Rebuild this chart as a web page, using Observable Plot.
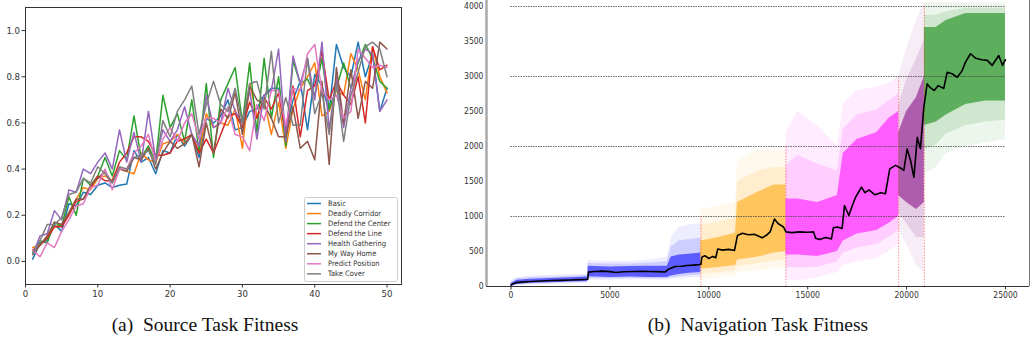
<!DOCTYPE html>
<html>
<head>
<meta charset="utf-8">
<script src="https://cdn.jsdelivr.net/npm/d3@7"></script>
<script src="https://cdn.jsdelivr.net/npm/@observablehq/plot@0.6"></script>
<style>
  body { margin: 0; background: #fff; width: 1032px; height: 350px; overflow: hidden; position: relative; }
  #left { position: absolute; left: 0; top: 0; }
  #right { position: absolute; left: 446px; top: 0; }
  #legend { position: absolute; left: 304px; top: 197px; }
  .cap { position: absolute; top: 314px; font-family: 'Liberation Serif', serif; font-size: 19.5px; color: #111;
         transform: translateX(-50%); white-space: pre; }
</style>
</head>
<body>
<div id="left"></div>
<div id="legend"></div>
<div id="right"></div>
<div class="cap" style="left:205px">(a)  Source Task Fitness</div>
<div class="cap" style="left:758px">(b)  Navigation Task Fitness</div>
<script>
// ---------- (a) Source task fitness: 8 tasks x 50 epochs ----------
const tasks = ["Basic", "Deadly Corridor", "Defend the Center", "Defend the Line",
               "Health Gathering", "My Way Home", "Predict Position", "Take Cover"];
const taskColors = ["#1f77b4", "#ff7f0e", "#2ca02c", "#d62728", "#9467bd", "#8c564b", "#e377c2", "#7f7f7f"];

const basic = [0.01,0.08,0.09,0.16,0.13,0.25,0.24,0.30,0.29,0.33,0.34,0.32,0.33,0.335,0.48,0.43,0.45,0.38,0.48,0.47,0.55,0.50,0.55,0.45,0.62,0.60,0.63,0.70,0.57,0.58,0.65,0.66,0.72,0.75,0.75,0.56,0.70,0.78,0.57,0.81,0.76,0.65,0.94,0.84,0.80,0.95,0.80,0.90,0.65,0.75];
const deadlyCorridor = [0.06,0.07,0.11,0.15,0.16,0.21,0.27,0.32,0.31,0.36,0.37,0.35,0.40,0.39,0.38,0.47,0.44,0.43,0.51,0.52,0.55,0.51,0.55,0.47,0.64,0.58,0.60,0.59,0.66,0.49,0.77,0.63,0.70,0.55,0.69,0.49,0.66,0.75,0.80,0.86,0.63,0.65,0.74,0.72,0.90,0.83,0.70,0.93,0.80,0.73];
const defendCenter = [0.04,0.09,0.08,0.17,0.15,0.28,0.20,0.36,0.33,0.37,0.45,0.37,0.48,0.44,0.63,0.45,0.50,0.43,0.72,0.58,0.64,0.52,0.70,0.48,0.77,0.45,0.70,0.77,0.84,0.60,0.86,0.56,0.88,0.62,0.80,0.50,0.87,0.77,0.79,0.72,0.88,0.66,0.75,0.86,0.75,0.86,0.94,0.88,0.78,0.75];
const defendLine = [0.05,0.07,0.10,0.15,0.15,0.20,0.26,0.27,0.32,0.37,0.35,0.35,0.43,0.47,0.54,0.54,0.52,0.46,0.46,0.47,0.52,0.53,0.55,0.47,0.53,0.47,0.55,0.63,0.64,0.58,0.69,0.62,0.71,0.66,0.73,0.55,0.76,0.54,0.74,0.76,0.91,0.70,0.78,0.72,0.68,0.80,0.60,0.93,0.83,0.85];
const healthGathering = [0.03,0.11,0.12,0.22,0.18,0.31,0.30,0.40,0.38,0.43,0.47,0.40,0.57,0.43,0.56,0.43,0.65,0.44,0.57,0.52,0.57,0.67,0.55,0.50,0.72,0.58,0.60,0.75,0.65,0.60,0.74,0.53,0.72,0.74,0.92,0.52,0.89,0.77,0.88,0.70,0.95,0.57,0.80,0.58,0.75,0.87,0.92,0.90,0.65,0.70];
const myWayHome = [0.03,0.07,0.11,0.17,0.16,0.21,0.27,0.27,0.33,0.36,0.39,0.34,0.40,0.39,0.45,0.44,0.49,0.40,0.47,0.52,0.49,0.51,0.55,0.41,0.60,0.47,0.66,0.62,0.73,0.55,0.76,0.70,0.68,0.62,0.54,0.54,0.67,0.49,0.52,0.44,0.78,0.42,0.84,0.60,0.83,0.62,0.78,0.75,0.95,0.92];
const predictPosition = [0.05,0.02,0.08,0.06,0.13,0.18,0.24,0.25,0.32,0.33,0.40,0.31,0.40,0.40,0.47,0.50,0.55,0.43,0.53,0.58,0.52,0.60,0.64,0.53,0.62,0.62,0.60,0.67,0.55,0.54,0.48,0.68,0.61,0.74,0.74,0.59,0.75,0.74,0.90,0.94,0.74,0.70,0.72,0.62,0.65,0.92,0.88,0.84,0.85,0.84];
const takeCover = [0.03,0.09,0.16,0.16,0.19,0.29,0.30,0.36,0.34,0.41,0.38,0.34,0.41,0.40,0.45,0.46,0.48,0.42,0.61,0.54,0.65,0.70,0.76,0.55,0.68,0.78,0.68,0.65,0.75,0.60,0.77,0.78,0.66,0.91,0.60,0.71,0.59,0.59,0.88,0.64,0.73,0.55,0.77,0.52,0.72,0.82,0.93,0.95,0.92,0.80];

const sourceSeries = [basic, deadlyCorridor, defendCenter, defendLine, healthGathering, myWayHome, predictPosition, takeCover];
const sourceRows = sourceSeries.flatMap((vals, k) => vals.map((v, i) => ({task: tasks[k], epoch: i + 1, fitness: v})));

const leftXTicks = [0, 10, 20, 30, 40, 50];
const leftYTicks = [0, 0.2, 0.4, 0.6, 0.8, 1.0];

const tickFont = "'DejaVu Sans Condensed', 'DejaVu Sans', sans-serif";

const leftPlot = Plot.plot({
  width: 410, height: 300,
  marginLeft: 25, marginRight: 9, marginTop: 7, marginBottom: 16,
  x: {domain: [0, 52]},
  y: {domain: [-0.1, 1.1]},
  color: {domain: tasks, range: taskColors},
  style: {fontFamily: tickFont, fontSize: "9.5px", color: "#333", background: "#fff", overflow: "visible"},
  marks: [
    Plot.axisX({ticks: leftXTicks, tickSize: 3.5, tickPadding: 2, label: null, stroke: "#333"}),
    Plot.axisY({ticks: leftYTicks, tickSize: 3.5, tickPadding: 2, tickFormat: d => d.toFixed(1), label: null, stroke: "#333"}),
    Plot.line(sourceRows, {x: "epoch", y: "fitness", z: "task", stroke: "task", strokeWidth: 1.5}),
    Plot.frame({stroke: "#333", strokeWidth: 1})
  ]
});
document.getElementById("left").appendChild(leftPlot);

// legend box inside the lower-right corner of panel (a)
{
  const w = 93, h = 84, rowH = 10.05;
  const svg = d3.select("#legend").append("svg").attr("width", w + 1).attr("height", h + 1);
  svg.append("rect").attr("x", 0.5).attr("y", 0.5).attr("width", w).attr("height", h)
     .attr("rx", 2).attr("fill", "#fff").attr("stroke", "#ccc");
  const g = svg.selectAll("g").data(tasks).join("g")
     .attr("transform", (d, i) => `translate(0,${6.5 + i * rowH})`);
  g.append("line").attr("x1", 3).attr("x2", 17).attr("stroke", (d, i) => taskColors[i]).attr("stroke-width", 1.5);
  g.append("text").attr("x", 24).attr("dy", "0.35em").text(d => d)
     .attr("font-family", tickFont).attr("font-size", "7.5px").attr("fill", "#333");
}

// ---------- (b) Navigation task fitness ----------
const phases = ["p1", "p2", "p3", "p4", "p5"];
const phaseColors = ["#0000ff", "#ffa500", "#ff00ff", "#800080", "#008000"];
// phase switch steps and the height of the marker drawn at each switch
const switchStep = [9600, 13900, 19600, 20900];
const switchTop = [1000, 2000, 3000, 4000];
const gridLevels = [1000, 2000, 3000, 4000];

// spread of the individual runs per phase: outer (faint) and inner (dense) envelopes
const bandPhase = ["p1","p1","p1","p1","p1","p1","p1","p1","p1","p1","p1","p1","p1","p1","p1",
                   "p2","p2","p2","p2","p2","p2","p2",
                   "p3","p3","p3","p3","p3","p3","p3","p3","p3",
                   "p4","p4","p4","p4",
                   "p5","p5","p5","p5","p5","p5"];
const bandStep = [0,300,1000,2000,3000,3880,3900,5000,6000,7000,7900,8100,8500,9000,9600,
                  9600,10500,11350,11450,12500,13300,13900,
                  13900,14500,15500,16500,16800,17500,18500,19100,19600,
                  19600,20000,20500,20900,
                  20900,21500,22000,23000,24000,25000];
const outerLow = [0,10,20,30,40,45,90,90,95,95,90,100,110,120,130,
                  100,120,150,200,220,250,250,
                  100,80,120,200,300,350,400,500,600,
                  800,600,300,200,
                  1600,1700,1900,2000,2050,2100];
const innerLow = [0,30,45,55,65,70,140,130,135,130,130,150,170,190,200,
                  250,270,300,380,420,480,500,
                  450,450,430,500,650,750,800,900,1000,
                  1300,1200,1100,1200,
                  2300,2350,2450,2600,2650,2650];
const innerHigh = [40,90,105,115,125,135,290,280,285,290,290,420,450,460,480,
                   650,700,760,1200,1350,1450,1450,
                   1250,1250,1200,1300,1900,2100,2200,2400,2500,
                   2200,2500,2700,3000,
                   3700,3700,3800,3900,3900,3900];
const outerHigh = [80,130,150,160,170,180,370,360,360,380,420,700,850,880,900,
                   1100,1150,1200,1800,1950,1950,1950,
                   2200,2500,2300,2000,2600,2800,2850,2900,3000,
                   3000,3400,3800,4050,
                   4050,4050,4050,4050,4050,4050];
const bandRows = bandStep.map((s, i) => ({phase: bandPhase[i], step: s,
  outerLow: outerLow[i], innerLow: innerLow[i], innerHigh: innerHigh[i], outerHigh: outerHigh[i],
  // halfway envelope, used only to soften the edge between the two layers
  midLow: (outerLow[i] + innerLow[i]) / 2, midHigh: (outerHigh[i] + innerHigh[i]) / 2}));

// mean fitness over runs
const meanStep = [0,100,250,500,1000,1500,2000,2500,3000,3500,3880,3920,4200,4600,5000,5300,5700,6200,6600,7000,7400,7800,7950,8300,8600,8900,9200,9500,9600,
  9650,9800,10000,10200,10350,10450,10700,11000,11300,11450,11700,12000,12300,12700,12950,13100,13320,13500,13780,
  13900,14200,14600,15000,15300,15400,15600,15900,16200,16300,16500,16740,16860,17080,17250,17420,17720,17900,18100,18400,18700,18930,19150,19440,
  19650,19860,20030,20200,20370,20540,20700,20870,
  21040,21200,21400,21600,21880,22050,22300,22560,22800,22980,23230,23500,23800,24080,24330,24660,24850,25000];
const meanValue = [20,40,55,62,72,78,85,88,92,98,104,205,215,220,212,200,210,215,218,215,212,208,245,285,290,300,305,312,316,
  420,440,400,430,410,535,520,530,515,730,760,740,745,695,740,780,965,900,850,
  780,770,780,775,780,690,670,700,680,840,850,830,1155,1015,1150,1275,1420,1340,1380,1310,1340,1325,1680,1730,
  1700,1660,1965,1800,1560,2130,1970,2560,
  2895,2840,2800,2870,2830,3060,3040,2990,3080,3205,3325,3260,3240,3230,3160,3300,3160,3240];
const meanRows = meanStep.map((s, i) => ({step: s, fitness: meanValue[i]}));

const navX = [-1240, 26215];
const navY = [0, 4086];
const navXTicks = [0, 5000, 10000, 15000, 20000, 25000];
const navYTicks = [0, 500, 1000, 1500, 2000, 2500, 3000, 3500, 4000];

const rightPlot = Plot.plot({
  width: 586, height: 305,
  marginLeft: 40, marginRight: 3, marginTop: 0, marginBottom: 19,
  x: {domain: navX},
  y: {domain: navY},
  color: {domain: phases, range: phaseColors},
  style: {fontFamily: tickFont, fontSize: "8.5px", color: "#333", background: "#fff", overflow: "visible"},
  marks: [
    Plot.areaY(bandRows, {x: "step", y1: "outerLow", y2: "outerHigh", z: "phase", fill: "phase", fillOpacity: 0.07}),
    Plot.areaY(bandRows, {x: "step", y1: "midLow", y2: "midHigh", z: "phase", fill: "phase", fillOpacity: 0.13}),
    Plot.areaY(bandRows, {x: "step", y1: "innerLow", y2: "innerHigh", z: "phase", fill: "phase", fillOpacity: 0.55}),
    Plot.ruleY(gridLevels, {x1: navXTicks[0], x2: navXTicks[navXTicks.length - 1], stroke: "#444", strokeWidth: 0.8, strokeDasharray: "1.5,1"}),
    Plot.ruleX(switchStep, {x: d => d, y1: 0, y2: (d, i) => switchTop[i], stroke: "#ff3333", strokeOpacity: 0.7, strokeWidth: 0.8, strokeDasharray: "1.5,1.5"}),
    Plot.line(meanRows, {x: "step", y: "fitness", stroke: "black", strokeWidth: 1.6}),
    // spines
    Plot.ruleX([navX[0]], {stroke: "#aaa", strokeWidth: 2.5}),
    Plot.ruleX([navX[1]], {stroke: "#777", strokeWidth: 1}),
    Plot.ruleY([navY[0]], {stroke: "#333", strokeWidth: 1}),
    Plot.axisX({ticks: navXTicks, tickSize: 3.5, tickPadding: 2, tickFormat: d => String(d), label: null, stroke: "#333"}),
    Plot.axisY({ticks: navYTicks, tickSize: 0, tickPadding: 3, tickFormat: d => String(d), label: null})
  ]
});
document.getElementById("right").appendChild(rightPlot);
</script>
</body>
</html>
